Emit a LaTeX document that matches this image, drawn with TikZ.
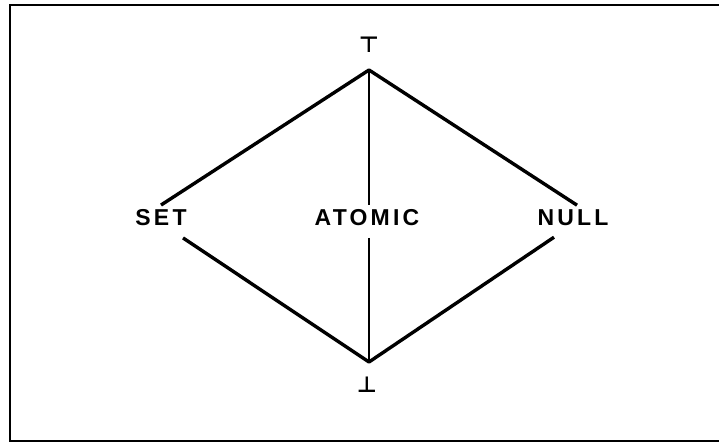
\documentclass[tikz,border=0pt]{standalone}
\usepackage{fontspec}
\newfontfamily\labfont{Liberation Sans}[LetterSpace=14]
\newfontfamily\symfont{DejaVu Sans}
\begin{document}
\begin{tikzpicture}[x=1pt,y=-1pt,
  lbl/.style={inner sep=0pt,font=\labfont\bfseries\fontsize{23}{23}\selectfont},
  sym/.style={inner sep=0pt,font=\symfont\bfseries\fontsize{22}{22}\selectfont},
  edge/.style={line width=3.4pt},
  vedge/.style={line width=2.6pt},
  frame/.style={line width=2.8pt}]
\useasboundingbox (0,0) rectangle (719,443);
\draw[frame] (719,5) -- (10,5) -- (10,441) -- (719,441);
\coordinate (t) at (369,70);
\coordinate (b) at (369,362);
\node[sym] (top) at (369,45) {⊤};
\node[sym] (bot) at (367,385) {⊥};
\node[lbl] (set) at (161,218) {SET};
\node[lbl] (atomic) at (367,218) {ATOMIC};
\node[lbl] (null) at (573,218) {NULL};
\draw[edge,line join=round] ([yshift=4.6pt]set.north) -- (t) -- ([xshift=4pt,yshift=4.6pt]null.north);
\draw[edge,line join=round] ([xshift=22pt,yshift=-11.6pt]set.south) -- (b) -- ([xshift=-19pt,yshift=-11pt]null.south);
\draw[vedge,shorten >=0pt] (t) -- ([yshift=4.6pt]t |- atomic.north);
\draw[vedge,shorten <=11.6pt] (b |- atomic.south) -- (b);
\end{tikzpicture}
\end{document}
